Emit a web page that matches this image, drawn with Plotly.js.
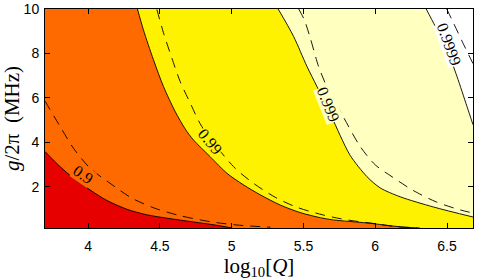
<!DOCTYPE html>
<html><head><meta charset="utf-8">
<script src="https://cdn.plot.ly/plotly-3.0.1.min.js"></script>
<style>html,body{margin:0;padding:0;background:#fff}#chart{width:478px;height:280px}</style>
</head><body><div id="chart"></div>
<script>
// contour levels (labels)
const levelLabels = ['0.9', '0.99', '0.999', '0.9999'];
// solid contour lines: x = log10[Q], y = g/2pi (MHz)
const solid1X = [3.70, 3.805, 3.898, 4.014, 4.130, 4.270, 4.409, 4.557, 4.732, 4.885, 5.00];
const solid1Y = [3.58, 2.90, 2.38, 1.85, 1.38, 0.98, 0.73, 0.57, 0.41, 0.27, 0.14];
const solid2X = [4.344, 4.385, 4.455, 4.525, 4.606, 4.676, 4.734, 4.850, 4.967, 5.082, 5.199, 5.338, 5.477, 5.617, 5.707, 5.944, 6.174, 6.29];
const solid2Y = [10.0, 9.07, 7.72, 6.51, 5.39, 4.60, 4.10, 3.35, 2.60, 2.08, 1.63, 1.17, 0.83, 0.60, 0.50, 0.36, 0.19, 0.14];
const solid3X = [5.324, 5.431, 5.524, 5.594, 5.686, 5.756, 5.826, 5.942, 6.035, 6.174, 6.406, 6.681];
const solid3Y = [10.0, 8.77, 7.42, 6.51, 5.30, 4.30, 3.40, 2.45, 1.94, 1.54, 1.08, 0.63];
const solid4X = [6.355, 6.418, 6.500, 6.569, 6.639, 6.681];
const solid4Y = [10.0, 9.22, 8.17, 6.97, 5.61, 4.79];
// dashed contour lines
const dash1X = [3.70, 3.805, 3.898, 4.014, 4.153, 4.305, 4.467, 4.641, 4.850, 5.036, 5.27];
const dash1Y = [5.85, 4.71, 3.73, 2.83, 2.15, 1.48, 1.02, 0.69, 0.42, 0.27, 0.17];
const dash2X = [4.479, 4.525, 4.583, 4.641, 4.711, 4.792, 5.013, 5.152, 5.303, 5.454, 5.638, 5.803, 5.977, 6.151, 6.31];
const dash2Y = [9.98, 8.93, 7.80, 6.74, 5.77, 4.71, 2.90, 2.15, 1.52, 1.07, 0.72, 0.50, 0.35, 0.19, 0.14];
const dash3X = [5.467, 5.505, 5.547, 5.605, 5.672, 5.777, 5.895, 6.0, 6.118, 6.258, 6.425, 6.592, 6.681];
const dash3Y = [10.0, 9.53, 8.71, 7.42, 6.37, 5.15, 3.81, 2.98, 2.44, 1.85, 1.31, 0.95, 0.81];
const dash4X = [6.498, 6.537, 6.613, 6.681];
const dash4Y = [10.0, 9.48, 8.44, 7.54];
// label positions
const labelX = [3.965, 4.850, 5.672, 6.516];
const labelY = [2.53, 4.02, 5.69, 8.40];
const labelAngle = [35, 50, 68, 70];
// ticks
const xTickVals = [4, 4.5, 5, 5.5, 6, 6.5];
const xTickText = ['4', '4.5', '5', '5.5', '6', '6.5'];
const yTickVals = [2, 4, 6, 8, 10];
const yTickText = ['2', '4', '6', '8', '10'];

const X_RANGE = [3.70, 6.681];
const Y_RANGE = [0.135, 10];
const colors = ['#e60000', '#ff6a00', '#fff200', '#ffffc0', '#ffffff'];
const FAR = 5;

function curveTrace(xs, ys) {
  return {x: xs, y: ys, type: 'scatter', mode: 'lines', line: {width: 0, shape: 'spline', smoothing: 0.8},
          hoverinfo: 'skip', showlegend: false};
}
// closes the region lying above/right of the previous curve trace
function closeTrace(xs, ys, color) {
  const n = xs.length - 1;
  return {x: [xs[0], X_RANGE[1] + FAR, X_RANGE[1] + FAR, xs[n]],
          y: [Y_RANGE[1] + FAR, Y_RANGE[1] + FAR, Y_RANGE[0] - FAR, Y_RANGE[0] - FAR],
          type: 'scatter', mode: 'lines', fill: 'tonexty', fillcolor: color,
          line: {width: 0}, hoverinfo: 'skip', showlegend: false};
}
function line(xs, ys, dash) {
  return {x: xs, y: ys, type: 'scatter', mode: 'lines',
          line: {color: '#000', width: 0.9, dash: dash ? '10px,7px' : 'solid', shape: 'spline', smoothing: 0.8},
          hoverinfo: 'skip', showlegend: false};
}
const solids = [[solid1X, solid1Y], [solid2X, solid2Y], [solid3X, solid3Y], [solid4X, solid4Y]];
const dashes = [[dash1X, dash1Y], [dash2X, dash2Y], [dash3X, dash3Y], [dash4X, dash4Y]];
const traces = [];
solids.forEach((s, i) => { traces.push(curveTrace(s[0], s[1])); traces.push(closeTrace(s[0], s[1], colors[i+1])); });
solids.forEach(s => traces.push(line(s[0], s[1], false)));
dashes.forEach(s => traces.push(line(s[0], s[1], true)));

const annotations = levelLabels.map((t, i) => ({
  x: labelX[i], y: labelY[i], xref: 'x', yref: 'y', text: t, showarrow: false,
  textangle: labelAngle[i], font: {family: 'Liberation Serif, Times New Roman, serif', size: 16, color: '#000'},
  bgcolor: colors[i+1], borderpad: 0
}));

const axisCommon = {showline: true, linecolor: '#000', linewidth: 1, mirror: 'ticks', ticks: 'inside',
  ticklen: 5, tickcolor: '#000', showgrid: false, zeroline: false,
  tickfont: {family: 'Liberation Sans, Arial, sans-serif', size: 14, color: '#000'}};

const layout = {
  width: 478, height: 280,
  margin: {l: 45, r: 5, t: 9, b: 52},
  paper_bgcolor: '#fff', plot_bgcolor: colors[0],
  showlegend: false,
  xaxis: Object.assign({}, axisCommon, {range: X_RANGE, tickvals: xTickVals, ticktext: xTickText,
    ticklabelstandoff: 5,
    title: {text: 'log<sub>10</sub>[<i>Q</i>]', standoff: 2,
      font: {family: 'Liberation Serif, Times New Roman, serif', size: 21, color: '#000'}}}),
  yaxis: Object.assign({}, axisCommon, {range: Y_RANGE, tickvals: yTickVals, ticktext: yTickText,
    ticklabelstandoff: 2,
    title: {text: '<i>g</i>/2π  (MHz)', standoff: 4,
      font: {family: 'Liberation Serif, Times New Roman, serif', size: 21, color: '#000'}}}),
  annotations: annotations
};
Plotly.newPlot('chart', traces, layout, {displayModeBar: false, staticPlot: true});
</script></body></html>
